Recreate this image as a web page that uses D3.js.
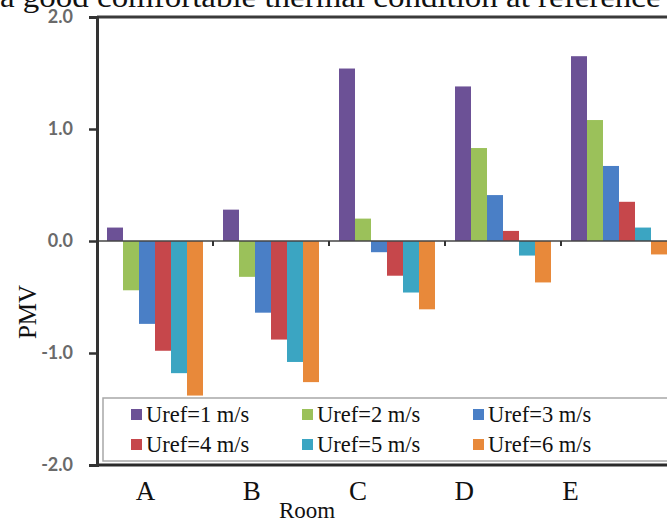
<!DOCTYPE html>
<html>
<head>
<meta charset="utf-8">
<script src="https://cdn.jsdelivr.net/npm/d3@7"></script>
<style>
  html, body { margin: 0; padding: 0; background: #fff; }
  svg { display: block; }
</style>
</head>
<body>
<svg id="chart" width="667" height="521"></svg>
<script>
// Rooms and reference wind speeds
const rooms = ["A", "B", "C", "D", "E"];
const seriesNames = ["Uref=1 m/s", "Uref=2 m/s", "Uref=3 m/s", "Uref=4 m/s", "Uref=5 m/s", "Uref=6 m/s"];
const seriesColors = ["#6c5196", "#9bc15a", "#4a7fc6", "#c6474b", "#3ba5c2", "#e8893a"];

// PMV per room, one array per reference velocity
const pmvU1 = [0.12, 0.28, 1.54, 1.38, 1.65];
const pmvU2 = [-0.44, -0.32, 0.20, 0.83, 1.08];
const pmvU3 = [-0.74, -0.64, -0.10, 0.41, 0.67];
const pmvU4 = [-0.98, -0.88, -0.31, 0.09, 0.35];
const pmvU5 = [-1.18, -1.08, -0.46, -0.13, 0.12];
const pmvU6 = [-1.38, -1.26, -0.61, -0.37, -0.12];
const yTicks = [-2, -1, 0, 1, 2];

const series = [pmvU1, pmvU2, pmvU3, pmvU4, pmvU5, pmvU6];

const svg = d3.select("#chart");

// Running caption line above the figure
svg.append("text")
  .attr("x", 0).attr("y", 7)
  .attr("font-family", "Liberation Serif, serif")
  .attr("font-size", 29)
  .attr("fill", "#111")
  .attr("textLength", 775)
  .attr("lengthAdjust", "spacingAndGlyphs")
  .text("a good comfortable thermal condition at reference velocity");

const y = d3.scaleLinear().domain([-2, 2]).range([465, 17]);
const x0 = d3.scaleBand().domain(rooms).range([97, 677]);
const x1 = d3.scaleBand().domain(d3.range(series.length)).range([10, 106]);
const xLabel = d3.scalePoint().domain(rooms).range([145, 570]);

// Plot frame: top and bottom rules
svg.append("line")
  .attr("x1", 97).attr("x2", 667).attr("y1", y(2)).attr("y2", y(2))
  .attr("stroke", "#3a3a3a").attr("stroke-width", 3);
svg.append("line")
  .attr("x1", 97).attr("x2", 667).attr("y1", y(-2)).attr("y2", y(-2))
  .attr("stroke", "#2a2a2a").attr("stroke-width", 3);

// Bars
const groups = svg.append("g").selectAll("g")
  .data(rooms)
  .join("g")
  .attr("transform", r => `translate(${x0(r)},0)`);

groups.selectAll("rect")
  .data((r, i) => series.map((s, k) => ({ k, v: s[i] })))
  .join("rect")
  .attr("x", d => x1(d.k))
  .attr("width", x1.bandwidth())
  .attr("y", d => y(Math.max(0, d.v)))
  .attr("height", d => Math.abs(y(d.v) - y(0)))
  .attr("fill", d => seriesColors[d.k]);

// Zero line with category separators
svg.append("line")
  .attr("x1", 97).attr("x2", 667).attr("y1", y(0)).attr("y2", y(0))
  .attr("stroke", "#444").attr("stroke-width", 1.6);
svg.append("g").selectAll("line")
  .data(rooms.slice(1))
  .join("line")
  .attr("x1", r => x0(r)).attr("x2", r => x0(r))
  .attr("y1", y(0)).attr("y2", y(0) + 5)
  .attr("stroke", "#333").attr("stroke-width", 2);

// Y axis
const yAxis = svg.append("g")
  .attr("transform", "translate(97,0)")
  .call(d3.axisLeft(y).tickValues(yTicks).tickSize(8).tickPadding(16)
    .tickFormat(d => d.toFixed(1)));
yAxis.select(".domain").attr("stroke", "#333").attr("stroke-width", 3);
yAxis.selectAll(".tick line").attr("stroke", "#333").attr("stroke-width", 2.5);
yAxis.selectAll(".tick text")
  .attr("font-family", "Lato, sans-serif")
  .attr("font-weight", "bold")
  .attr("font-size", 18)
  .attr("fill", "#6a6a6a");

// Room labels
const xAxis = svg.append("g")
  .attr("transform", `translate(0,${y(-2)})`)
  .call(d3.axisBottom(xLabel).tickSize(0).tickPadding(16));
xAxis.select(".domain").remove();
xAxis.selectAll(".tick text")
  .attr("font-family", "Liberation Serif, serif")
  .attr("font-size", 27)
  .attr("fill", "#111");

// Axis titles
svg.append("text")
  .attr("x", 307).attr("y", 518)
  .attr("text-anchor", "middle")
  .attr("font-family", "Liberation Serif, serif")
  .attr("font-size", 23)
  .attr("fill", "#111")
  .text("Room");
svg.append("text")
  .attr("transform", "translate(36,312) rotate(-90)")
  .attr("text-anchor", "middle")
  .attr("font-family", "Liberation Serif, serif")
  .attr("font-size", 25)
  .attr("fill", "#111")
  .text("PMV");

// Legend
const legend = svg.append("g");
legend.append("rect")
  .attr("x", 103).attr("y", 398).attr("width", 580).attr("height", 63)
  .attr("fill", "#fff").attr("stroke", "#a8a8a8").attr("stroke-width", 1.5);
const colX = [131, 302, 473];
const rowY = [415, 445];
const items = legend.selectAll("g.item")
  .data(seriesNames)
  .join("g")
  .attr("class", "item")
  .attr("transform", (d, i) => `translate(${colX[i % 3]},${rowY[Math.floor(i / 3)]})`);
items.append("rect")
  .attr("x", 0).attr("y", -6).attr("width", 11).attr("height", 11)
  .attr("fill", (d, i) => seriesColors[i]);
items.append("text")
  .attr("x", 15).attr("y", 7)
  .attr("font-family", "Liberation Serif, serif")
  .attr("font-size", 22.5)
  .attr("fill", "#111")
  .text(d => d);
</script>
</body>
</html>
